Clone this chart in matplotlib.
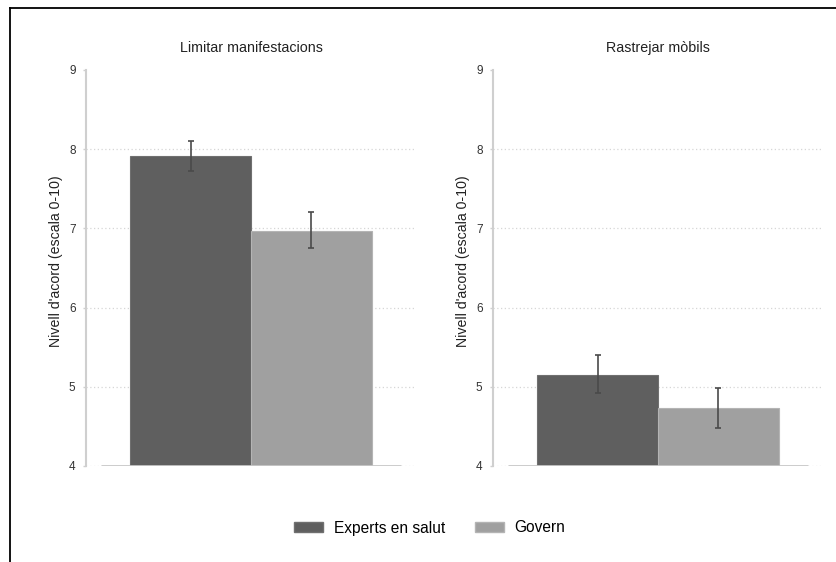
import matplotlib.pyplot as plt
from matplotlib.lines import Line2D
from matplotlib.patches import Patch

plt.rcParams['font.family'] = ['Liberation Sans', 'DejaVu Sans']

# mitjanes i intervals de confiança
panels = ["Limitar manifestacions", "Rastrejar mòbils"]
groups = ["Experts en salut", "Govern"]
experts = [7.91, 5.15]
experts_lo = [7.72, 4.92]
experts_hi = [8.10, 5.40]
govern = [6.97, 4.73]
govern_lo = [6.75, 4.48]
govern_hi = [7.21, 4.98]

colors = ["#5f5f5f", "#a0a0a0"]
edges = ["#707070", "#b4b4b4"]
axis_gray = "#cfcfcf"

fig = plt.figure(figsize=(8.36, 5.62), dpi=100)

W, H = 836, 562
lefts = [86, 493]
for i, title in enumerate(panels):
    ax = fig.add_axes([lefts[i] / W, (H - 466) / H, 330 / W, 396 / H])
    means = [experts[i], govern[i]]
    lo = [experts_lo[i], govern_lo[i]]
    hi = [experts_hi[i], govern_hi[i]]
    xs = [0, 1]
    ax.bar(xs, [m - 4 for m in means], bottom=4, width=1.0,
           color=colors, edgecolor=edges, linewidth=0.8, zorder=2)
    yerr = [[m - l for m, l in zip(means, lo)], [h - m for m, h in zip(means, hi)]]
    ax.errorbar(xs, means, yerr=yerr, fmt='none', ecolor="#4a4a4a",
                elinewidth=1.2, capsize=2.5, capthick=1.2, zorder=3)

    ax.set_xlim(-0.865, 1.865)
    ax.set_ylim(4, 9)
    ax.axhline(4, xmin=(-0.745 + 0.865) / 2.73, xmax=(1.745 + 0.865) / 2.73,
               color="#c8c8c8", lw=2, zorder=4, solid_capstyle='butt')
    for g in [4, 5, 6, 7, 8]:
        ax.axhline(g, color="#d6d6d6", lw=0.9, ls=(0, (1, 2)), zorder=1)

    ax.set_yticks([4, 5, 6, 7, 8, 9])
    ax.set_xticks([])
    for s in ["top", "right", "bottom"]:
        ax.spines[s].set_visible(False)
    ax.spines["left"].set_color(axis_gray)
    ax.spines["left"].set_linewidth(1.5)
    ax.tick_params(axis='y', length=2.5, width=1, color=axis_gray,
                   labelsize=8.5, labelcolor="#333333", pad=5)
    ax.set_ylabel("Nivell d'acord (escala 0-10)", fontsize=10.2, color="#222222")
    ax.yaxis.set_label_coords(-0.07, 0.518)
    ax.set_title(title, fontsize=10.3, color="#222222", pad=13)

handles = [Patch(facecolor=colors[0], edgecolor=edges[0]),
           Patch(facecolor=colors[1], edgecolor=edges[1])]
fig.legend(handles, groups, loc='center', bbox_to_anchor=(430 / W, 1 - 528 / H),
           ncol=2, frameon=False, fontsize=11.2, handlelength=1.85,
           handleheight=0.65, handletextpad=0.7, columnspacing=1.9)

# marc exterior (només a dalt i a l'esquerra)
fig.add_artist(Line2D([10 / W, 10 / W], [0, 1 - 8 / H], color="black", lw=1.3))
fig.add_artist(Line2D([10 / W, 1], [1 - 8 / H, 1 - 8 / H], color="black", lw=1.3))

fig.savefig("out.png", dpi=100)
